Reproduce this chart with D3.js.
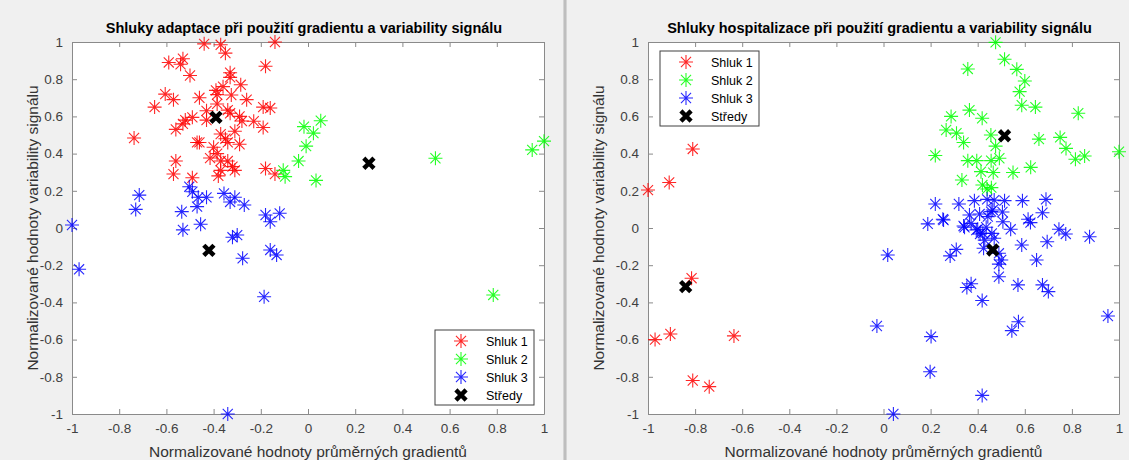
<!DOCTYPE html>
<html>
<head>
<meta charset="utf-8">
<script src="https://cdn.jsdelivr.net/npm/d3@7"></script>
<style>
  body { margin: 0; background: #f0f0f0; }
  svg { display: block; font-family: "Liberation Sans", Arial, sans-serif; }
</style>
</head>
<body>
<div id="chart"></div>
<script>
// Shluky - two scatter panels (adaptace / hospitalizace)

// tick values shared by both axes
var tickValues = [-1, -0.8, -0.6, -0.4, -0.2, 0, 0.2, 0.4, 0.6, 0.8, 1];
var legendNames = ["Shluk 1", "Shluk 2", "Shluk 3", "Středy"];
var clusterColors = ["#ff0000", "#00ff00", "#0000ff"];

// left panel: adaptace
var adaptShluk1 = [
  [-0.44,0.99],[-0.37,0.985],[-0.14,1.0],[-0.35,0.94],[-0.53,0.91],[-0.59,0.89],[-0.54,0.88],
  [-0.50,0.82],[-0.18,0.87],[-0.33,0.835],[-0.33,0.81],[-0.285,0.77],[-0.36,0.76],[-0.39,0.74],
  [-0.325,0.715],[-0.385,0.717],[-0.46,0.70],[-0.605,0.72],[-0.57,0.69],[-0.65,0.65],[-0.26,0.69],
  [-0.385,0.667],[-0.43,0.63],[-0.34,0.634],[-0.33,0.617],[-0.19,0.65],[-0.16,0.645],[-0.29,0.60],
  [-0.28,0.575],[-0.23,0.574],[-0.19,0.54],[-0.43,0.58],[-0.49,0.595],[-0.52,0.58],[-0.53,0.56],
  [-0.56,0.53],[-0.737,0.484],[-0.47,0.46],[-0.46,0.46],[-0.37,0.505],[-0.35,0.48],[-0.31,0.52],
  [-0.34,0.46],[-0.29,0.45],[-0.40,0.434],[-0.415,0.376],[-0.385,0.40],[-0.37,0.36],[-0.34,0.36],
  [-0.37,0.31],[-0.32,0.33],[-0.31,0.31],[-0.38,0.28],[-0.56,0.36],[-0.57,0.29],[-0.49,0.27],
  [-0.18,0.32],[-0.14,0.29]
];
var adaptShluk2 = [
  [-0.017,0.545],[0.054,0.577],[0.023,0.51],[-0.008,0.44],[-0.04,0.36],[-0.105,0.31],
  [-0.097,0.276],[0.034,0.256],[0.54,0.375],[0.95,0.42],[1.0,0.467],[0.785,-0.36]
];
var adaptShluk3 = [
  [-0.715,0.177],[-0.73,0.10],[-0.503,0.222],[-0.49,0.195],[-0.465,0.165],[-0.43,0.165],
  [-0.47,0.115],[-0.535,0.088],[-0.53,-0.01],[-0.455,0.02],[-0.356,0.186],[-0.33,0.14],
  [-0.31,0.165],[-0.27,0.124],[-0.18,0.07],[-0.16,0.034],[-0.12,0.079],[-0.32,-0.05],
  [-0.30,-0.038],[-0.277,-0.163],[-0.16,-0.118],[-0.133,-0.145],[-1.0,0.016],[-0.97,-0.222],
  [-0.186,-0.37],[-0.34,-1.0]
];
var adaptStredy = [[-0.39,0.595],[0.258,0.348],[-0.42,-0.12]];

// right panel: hospitalizace
var hospShluk1 = [
  [-1.0,0.204],[-0.91,0.245],[-0.81,0.425],[-0.815,-0.27],[-0.97,-0.60],[-0.905,-0.57],
  [-0.635,-0.58],[-0.81,-0.82],[-0.74,-0.853]
];
var hospShluk2 = [
  [0.476,0.998],[0.514,0.907],[0.358,0.855],[0.566,0.853],[0.60,0.79],[0.578,0.733],[0.587,0.66],
  [0.645,0.65],[0.827,0.617],[0.365,0.634],[0.287,0.60],[0.419,0.59],[0.266,0.527],[0.31,0.51],
  [0.34,0.46],[0.456,0.50],[0.476,0.44],[0.66,0.478],[0.75,0.487],[0.775,0.428],[0.815,0.37],
  [0.854,0.387],[1.0,0.41],[0.22,0.39],[0.358,0.362],[0.396,0.362],[0.457,0.362],[0.492,0.375],
  [0.414,0.303],[0.466,0.298],[0.55,0.298],[0.625,0.326],[0.333,0.258],[0.42,0.231],[0.458,0.217],
  [0.44,0.21]
];
var hospShluk3 = [
  [0.22,0.129],[0.32,0.129],[0.386,0.147],[0.44,0.154],[0.47,0.15],[0.514,0.147],[0.59,0.147],
  [0.69,0.154],[0.675,0.082],[0.614,0.047],[0.624,0.029],[0.252,0.047],[0.188,0.022],[0.365,0.07],
  [0.408,0.075],[0.457,0.088],[0.34,0.011],[0.372,0.025],[0.40,-0.007],[0.436,0.004],[0.46,-0.029],
  [0.507,0.034],[0.54,-0.007],[0.41,-0.032],[0.745,-0.007],[0.774,-0.032],[0.875,-0.047],
  [0.695,-0.074],[0.587,-0.091],[0.425,-0.109],[0.49,-0.136],[0.50,-0.172],[0.49,-0.194],
  [0.49,-0.262],[0.65,-0.172],[0.309,-0.115],[0.283,-0.15],[0.018,-0.145],[0.372,-0.30],
  [0.354,-0.32],[0.571,-0.306],[0.675,-0.306],[0.70,-0.342],[0.419,-0.39],[0.953,-0.473],
  [0.573,-0.504],[0.545,-0.552],[-0.028,-0.527],[0.202,-0.584],[0.198,-0.773],[0.419,-0.90],
  [0.042,-1.0],[0.255,0.043],[0.344,0.004],[0.394,-0.011],[0.422,-0.028],[0.443,0.061],
  [0.464,0.097],[0.43,-0.065],[0.47,-0.055],[0.505,0.086]
];
var hospStredy = [[-0.84,-0.315],[0.514,0.496],[0.464,-0.118]];

var width = 1129, height = 460;

var panels = [
  { title: "Shluky adaptace při použití gradientu a variability signálu",
    clusters: [adaptShluk1, adaptShluk2, adaptShluk3], centers: adaptStredy,
    x0: 72, x1: 544, ylab: 38,
    legend: { x: 435, y: 330 } },
  { title: "Shluky hospitalizace při použití gradientu a variability signálu",
    clusters: [hospShluk1, hospShluk2, hospShluk3], centers: hospStredy,
    x0: 648, x1: 1119, ylab: 604,
    legend: { x: 660, y: 51 } }
];
var plotTop = 42, plotBottom = 414;

var svg = d3.select("#chart").append("svg")
  .attr("width", width)
  .attr("height", height);

svg.append("rect").attr("width", width).attr("height", height).attr("fill", "#f0f0f0");
// window divider between the two figures
svg.append("rect").attr("x", 563).attr("y", 0).attr("width", 4).attr("height", height).attr("fill", "#d4d4d4");
svg.append("line").attr("x1", 565).attr("x2", 565).attr("y1", 0).attr("y2", height)
  .attr("stroke", "#a8a8a8").attr("stroke-width", 1);

var fmt = function(d) { return String(+d.toFixed(1)); };

// asterisk marker: plus + shorter x
function starPath(r) {
  var d = r * 0.72;
  return "M" + (-r) + ",0L" + r + ",0M0," + (-r) + "L0," + r +
    "M" + (-d) + "," + (-d) + "L" + d + "," + d + "M" + (-d) + "," + d + "L" + d + "," + (-d);
}
function crossPath(r) {
  return "M" + (-r) + "," + (-r) + "L" + r + "," + r + "M" + (-r) + "," + r + "L" + r + "," + (-r);
}

panels.forEach(function(p) {
  var x = d3.scaleLinear().domain([-1, 1]).range([p.x0, p.x1]);
  var y = d3.scaleLinear().domain([-1, 1]).range([plotBottom, plotTop]);
  var g = svg.append("g");

  g.append("rect")
    .attr("x", p.x0).attr("y", plotTop)
    .attr("width", p.x1 - p.x0).attr("height", plotBottom - plotTop)
    .attr("fill", "white");

  // axes, ticks pointing inward on all four sides
  var axes = [
    { a: d3.axisBottom(x).tickFormat(fmt), t: "translate(0," + plotBottom + ")", labels: true },
    { a: d3.axisTop(x).tickFormat(""), t: "translate(0," + plotTop + ")" },
    { a: d3.axisLeft(y).tickFormat(fmt), t: "translate(" + p.x0 + ",0)", labels: true },
    { a: d3.axisRight(y).tickFormat(""), t: "translate(" + p.x1 + ",0)" }
  ];
  axes.forEach(function(ax) {
    var sel = g.append("g")
      .attr("transform", ax.t)
      .call(ax.a.tickValues(tickValues).tickSizeInner(-5).tickSizeOuter(0).tickPadding(9));
    sel.select(".domain").attr("stroke", "#8a8a8a");
    sel.selectAll(".tick line").attr("stroke", "#8a8a8a");
    sel.selectAll(".tick text").attr("fill", "#404040").style("font-size", "13.5px");
  });

  // clusters
  p.clusters.forEach(function(pts, ci) {
    g.append("g").selectAll("path")
      .data(pts)
      .enter().append("path")
      .attr("transform", function(d) { return "translate(" + x(d[0]) + "," + y(d[1]) + ")"; })
      .attr("d", starPath(7))
      .attr("fill", "none")
      .attr("stroke", clusterColors[ci])
      .attr("stroke-opacity", 0.85)
      .attr("stroke-width", 1.1);
  });

  // cluster centres
  g.append("g").selectAll("path")
    .data(p.centers)
    .enter().append("path")
    .attr("transform", function(d) { return "translate(" + x(d[0]) + "," + y(d[1]) + ")"; })
    .attr("d", crossPath(3.5))
    .attr("stroke", "black")
    .attr("stroke-width", 4.5)
    .attr("stroke-linecap", "square");

  // titles and axis labels
  g.append("text")
    .attr("x", (p.x0 + p.x1) / 2 - 4).attr("y", 33)
    .attr("text-anchor", "middle")
    .style("font-size", "14.5px").style("font-weight", "bold")
    .attr("fill", "black")
    .text(p.title);

  g.append("text")
    .attr("x", (p.x0 + p.x1) / 2).attr("y", 457)
    .attr("text-anchor", "middle")
    .style("font-size", "15.5px")
    .attr("fill", "#333")
    .text("Normalizované hodnoty průměrných gradientů");

  g.append("text")
    .attr("transform", "translate(" + p.ylab + "," + (plotTop + plotBottom) / 2 + ") rotate(-90)")
    .attr("text-anchor", "middle")
    .style("font-size", "15.5px")
    .attr("fill", "#333")
    .text("Normalizované hodnoty variability signálu");

  // legend
  var lg = g.append("g").attr("transform", "translate(" + p.legend.x + "," + p.legend.y + ")");
  lg.append("rect")
    .attr("width", 99).attr("height", 75)
    .attr("fill", "white").attr("stroke", "#404040").attr("stroke-width", 1);
  legendNames.forEach(function(name, i) {
    var yy = 11 + i * 18;
    var m = lg.append("path").attr("transform", "translate(26," + yy + ")");
    if (i < 3) {
      m.attr("d", starPath(7)).attr("fill", "none")
        .attr("stroke", clusterColors[i]).attr("stroke-opacity", 0.85).attr("stroke-width", 1.1);
    } else {
      m.attr("d", crossPath(3.5)).attr("stroke", "black")
        .attr("stroke-width", 4.5).attr("stroke-linecap", "square");
    }
    lg.append("text")
      .attr("x", 51).attr("y", yy + 4.5)
      .style("font-size", "12.5px")
      .attr("fill", "black")
      .text(name);
  });
});
</script>
</body>
</html>
